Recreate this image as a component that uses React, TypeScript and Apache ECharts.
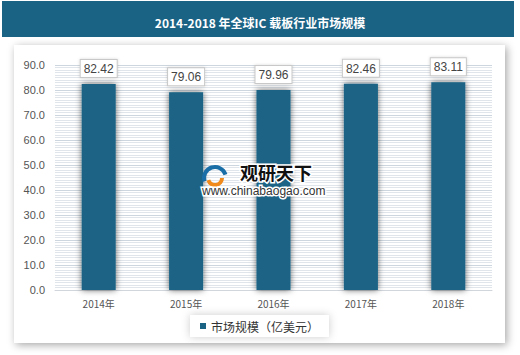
import React, { useEffect, useRef } from "react";
import * as echarts from "echarts";

const categories = ["2014年", "2015年", "2016年", "2017年", "2018年"];
const values = [82.42, 79.06, 79.96, 82.46, 83.11];
const seriesName = "市场规模（亿美元）";
const titleText = "2014-2018 年全球IC 载板行业市场规模";

export default function App() {
  const ref = useRef<HTMLDivElement>(null);
  useEffect(() => {
    document.body.style.margin = "0";
    const chart = echarts.init(ref.current!, null, { renderer: "svg" });
    chart.setOption({
      animation: false,
      backgroundColor: "#ffffff",
      title: {
        text: titleText,
        left: "center",
        top: 11,
        textStyle: { color: "#ffffff", fontSize: 12, fontWeight: "bold", fontFamily: "'Noto Sans CJK SC', sans-serif" },
      },
      grid: { left: 55, right: 28, top: 65, bottom: 65 },
      legend: {
        data: [seriesName],
        left: 190,
        top: 315,
        icon: "rect",
        itemWidth: 6,
        itemHeight: 6,
        itemGap: 4,
        padding: [5, 10, 5, 10],
        backgroundColor: "#ffffff",
        shadowBlur: 8,
        shadowColor: "rgba(0,0,0,0.2)",
        textStyle: { fontSize: 12, color: "#333", fontFamily: "'Noto Sans CJK SC', sans-serif" },
      },
      xAxis: {
        type: "category",
        data: categories,
        axisLine: { show: true, lineStyle: { color: "#d0d6dc" } },
        axisTick: { show: false },
        axisLabel: { fontSize: 10, color: "#555", margin: 8, fontFamily: "'Noto Sans CJK SC', sans-serif" },
      },
      yAxis: {
        type: "value",
        min: 0,
        max: 90,
        interval: 10,
        axisLine: { show: false },
        axisTick: { show: false },
        axisLabel: { fontSize: 11, color: "#555", margin: 10, formatter: (v: number) => v.toFixed(1), fontFamily: "Arial, 'Liberation Sans', sans-serif" },
        splitLine: { show: true, lineStyle: { color: "#cdd6de", width: 1 } },
        minorTick: { show: false, splitNumber: 10 },
        minorSplitLine: { show: true, lineStyle: { color: "#dfe5eb", width: 1 } },
      },
      series: [
        {
          name: seriesName,
          type: "bar",
          data: values,
          barWidth: 34,
          itemStyle: {
            color: "#1b6385",
            shadowBlur: 6,
            shadowColor: "rgba(0,0,0,0.6)",
          },
          label: {
            show: true,
            position: "top",
            distance: 7,
            formatter: (p: any) => p.value.toFixed(2),
            fontSize: 12,
            color: "#444",
            fontFamily: "Arial, 'Liberation Sans', sans-serif",
            backgroundColor: "#ffffff",
            borderColor: "#c8c8c8",
            borderWidth: 1,
            padding: [3, 3, 2, 3],
            shadowBlur: 3,
            shadowColor: "rgba(0,0,0,0.15)",
          },
        },
      ],
      graphic: [
        {
          type: "rect",
          z: -10,
          shape: { x: 2, y: 1, width: 512, height: 36 },
          style: { fill: "#1b6385" },
        },
        {
          type: "rect",
          z: -10,
          shape: { x: 14, y: 45, width: 491, height: 298 },
          style: { fill: "#ffffff", shadowBlur: 8, shadowOffsetX: 2, shadowOffsetY: 2, shadowColor: "rgba(0,0,0,0.35)" },
        },
        {
          type: "arc",
          z: 50,
          shape: { cx: 215, cy: 178, r: 11, startAngle: Math.PI * 0.9, endAngle: Math.PI * 1.9 },
          style: { stroke: "#1a6ea8", lineWidth: 4, fill: "none" },
        },
        {
          type: "arc",
          z: 50,
          shape: { cx: 215, cy: 178, r: 7, startAngle: Math.PI * 0.0, endAngle: Math.PI * 0.9 },
          style: { stroke: "#f08a1c", lineWidth: 4, fill: "none" },
        },
        {
          type: "text",
          z: 50,
          x: 240,
          y: 163,
          style: {
            text: "观研天下",
            fontSize: 18,
            fontWeight: "bold",
            fill: "#111",
            stroke: "#ffffff",
            lineWidth: 3,
            fontFamily: "'Noto Sans CJK SC', sans-serif",
          },
        },
        {
          type: "text",
          z: 50,
          x: 202,
          y: 185,
          style: {
            text: "www.chinabaogao.com",
            fontSize: 12,
            fill: "#333",
            stroke: "#ffffff",
            lineWidth: 3,
            fontFamily: "Arial, 'Liberation Sans', sans-serif",
          },
        },
      ],
    });
    return () => chart.dispose();
  }, []);
  return <div ref={ref} style={{ width: 520, height: 355 }} />;
}
